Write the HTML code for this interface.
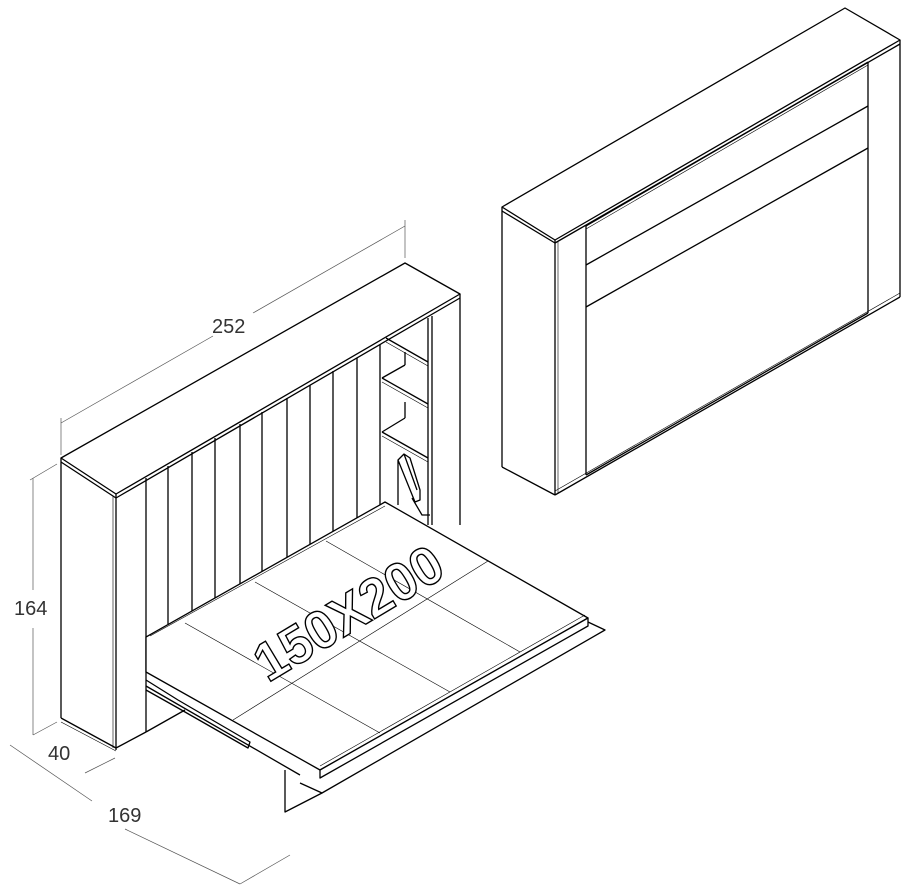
<!DOCTYPE html>
<html><head><meta charset="utf-8"><style>
html,body{margin:0;padding:0;background:#fff;}
svg{display:block;}
text{font-family:"Liberation Sans",sans-serif;}
</style></head><body>
<svg width="911" height="892" viewBox="0 0 911 892" xmlns="http://www.w3.org/2000/svg">
<g fill="none" stroke="#000" stroke-width="1.3" stroke-linejoin="round">
<!-- RIGHT UNIT -->
<polygon points="502,207 845,8 900,40 555,240" fill="#fff"/>
<line x1="502" y1="211" x2="555" y2="243"/>
<line x1="555" y1="243" x2="900" y2="44"/>
<line x1="502" y1="207" x2="502" y2="467"/>
<line x1="502" y1="467" x2="555" y2="495"/>
<line x1="555" y1="240" x2="555" y2="495"/>
<line x1="558" y1="242" x2="558" y2="493" stroke-width="0.6"/>
<line x1="900" y1="40" x2="900" y2="297"/>
<line x1="555" y1="495" x2="900" y2="297"/>
<line x1="555" y1="491" x2="900" y2="293" stroke-width="0.6"/>
<line x1="586" y1="226" x2="586" y2="475"/>
<line x1="868" y1="62" x2="868" y2="313"/>
<line x1="586" y1="226" x2="868" y2="62"/>
<line x1="586" y1="229" x2="868" y2="65" stroke-width="0.6"/>
<line x1="586" y1="265" x2="868" y2="106"/>
<line x1="586" y1="307" x2="868" y2="148"/>
<line x1="586" y1="475" x2="868" y2="313"/>

<!-- LEFT UNIT -->
<polygon points="61,458 405,263 460,294 116,494" fill="#fff"/>
<line x1="61" y1="462" x2="116" y2="498"/>
<line x1="116" y1="498" x2="460" y2="298"/>
<line x1="61" y1="458" x2="61" y2="718"/>
<line x1="61" y1="718" x2="116" y2="748"/>
<line x1="61" y1="722" x2="116" y2="751" stroke-width="0.6"/>
<line x1="116" y1="494" x2="116" y2="750"/>
<line x1="113" y1="496" x2="113" y2="748" stroke-width="0.6"/>
<line x1="116" y1="748" x2="146" y2="732"/>
<line x1="146" y1="478" x2="146" y2="732"/>
<line x1="146" y1="732" x2="185" y2="710"/>
<!-- slats -->
<line x1="168" y1="466" x2="168" y2="624"/>
<line x1="192" y1="452" x2="192" y2="612"/>
<line x1="215" y1="438" x2="215" y2="600"/>
<line x1="240" y1="424" x2="240" y2="588"/>
<line x1="262" y1="412" x2="262" y2="576"/>
<line x1="287" y1="398" x2="287" y2="564"/>
<line x1="310" y1="385" x2="310" y2="552"/>
<line x1="333" y1="371" x2="333" y2="540"/>
<line x1="357" y1="358" x2="357" y2="528"/>
<line x1="380" y1="345" x2="380" y2="516"/>
<!-- shelves -->
<line x1="428" y1="318" x2="428" y2="525"/>
<line x1="432" y1="316" x2="432" y2="525"/>
<line x1="460" y1="294" x2="460" y2="525"/>
<line x1="386" y1="338" x2="428" y2="362"/>
<line x1="386" y1="342" x2="428" y2="366" stroke-width="0.6"/>
<line x1="382" y1="378" x2="428" y2="404"/>
<line x1="382" y1="382" x2="428" y2="408" stroke-width="0.6"/>
<line x1="382" y1="378" x2="405" y2="365"/>
<line x1="405" y1="352" x2="405" y2="365"/>
<line x1="382" y1="432" x2="428" y2="458"/>
<line x1="382" y1="436" x2="428" y2="462" stroke-width="0.6"/>
<line x1="382" y1="432" x2="405" y2="418"/>
<line x1="405" y1="402" x2="405" y2="418"/>
<!-- mechanism -->
<path d="M398,460 L398,505 M398,460 L404,454 L410,458 L420,490 L420,500 L415,502 Z M404,454 L417,490"/>
<path d="M412,498 L422,515 L430,515"/>
<!-- BED -->
<polygon points="146,637 385,502 588,618 320,770 146,672" fill="#fff"/>
<polygon points="320,770 588,618 588,626 320,778" fill="#fff"/>
<polyline points="588,622 605,630 322,793 300,783"/>
<polyline points="285,770 285,812 322,793"/>
<path d="M146,680 L178,700 L250,742 L248,748 L178,708 L146,690"/>
<line x1="146" y1="686" x2="300" y2="775"/>
<g stroke-width="0.6">
<line x1="185" y1="623" x2="380" y2="733"/>
<line x1="255" y1="582" x2="450" y2="692"/>
<line x1="326" y1="541" x2="520" y2="652"/>
<line x1="233" y1="720" x2="488" y2="561"/>
<line x1="320" y1="766" x2="585" y2="615"/>
<line x1="150" y1="636" x2="385" y2="506"/>
</g>
<!-- dimension lines -->
<g stroke="#555" stroke-width="0.7">
<line x1="61" y1="455" x2="61" y2="418"/>
<line x1="405" y1="258" x2="405" y2="220"/>
<line x1="61" y1="423" x2="213" y2="336"/>
<line x1="253" y1="313" x2="405" y2="226"/>
<line x1="33" y1="478" x2="33" y2="590"/>
<line x1="33" y1="628" x2="33" y2="735"/>
<line x1="30" y1="480" x2="57" y2="464"/>
<line x1="33" y1="735" x2="57" y2="722"/>
<line x1="85" y1="773" x2="115" y2="758"/>
<line x1="10" y1="745" x2="92" y2="801"/>
<line x1="125" y1="829" x2="240" y2="884"/>
<line x1="240" y1="884" x2="290" y2="855"/>
</g>
</g>
<g font-size="20" fill="#333">
<text x="212" y="333">252</text>
<text x="14" y="615">164</text>
<text x="48" y="760">40</text>
<text x="108" y="822">169</text>
</g>
<text x="0" y="0" font-size="54" font-weight="bold" fill="#fff" stroke="#000" stroke-width="1.4" textLength="210" lengthAdjust="spacingAndGlyphs" transform="translate(268,683) rotate(-31)">150X200</text>
</svg>
</body></html>
